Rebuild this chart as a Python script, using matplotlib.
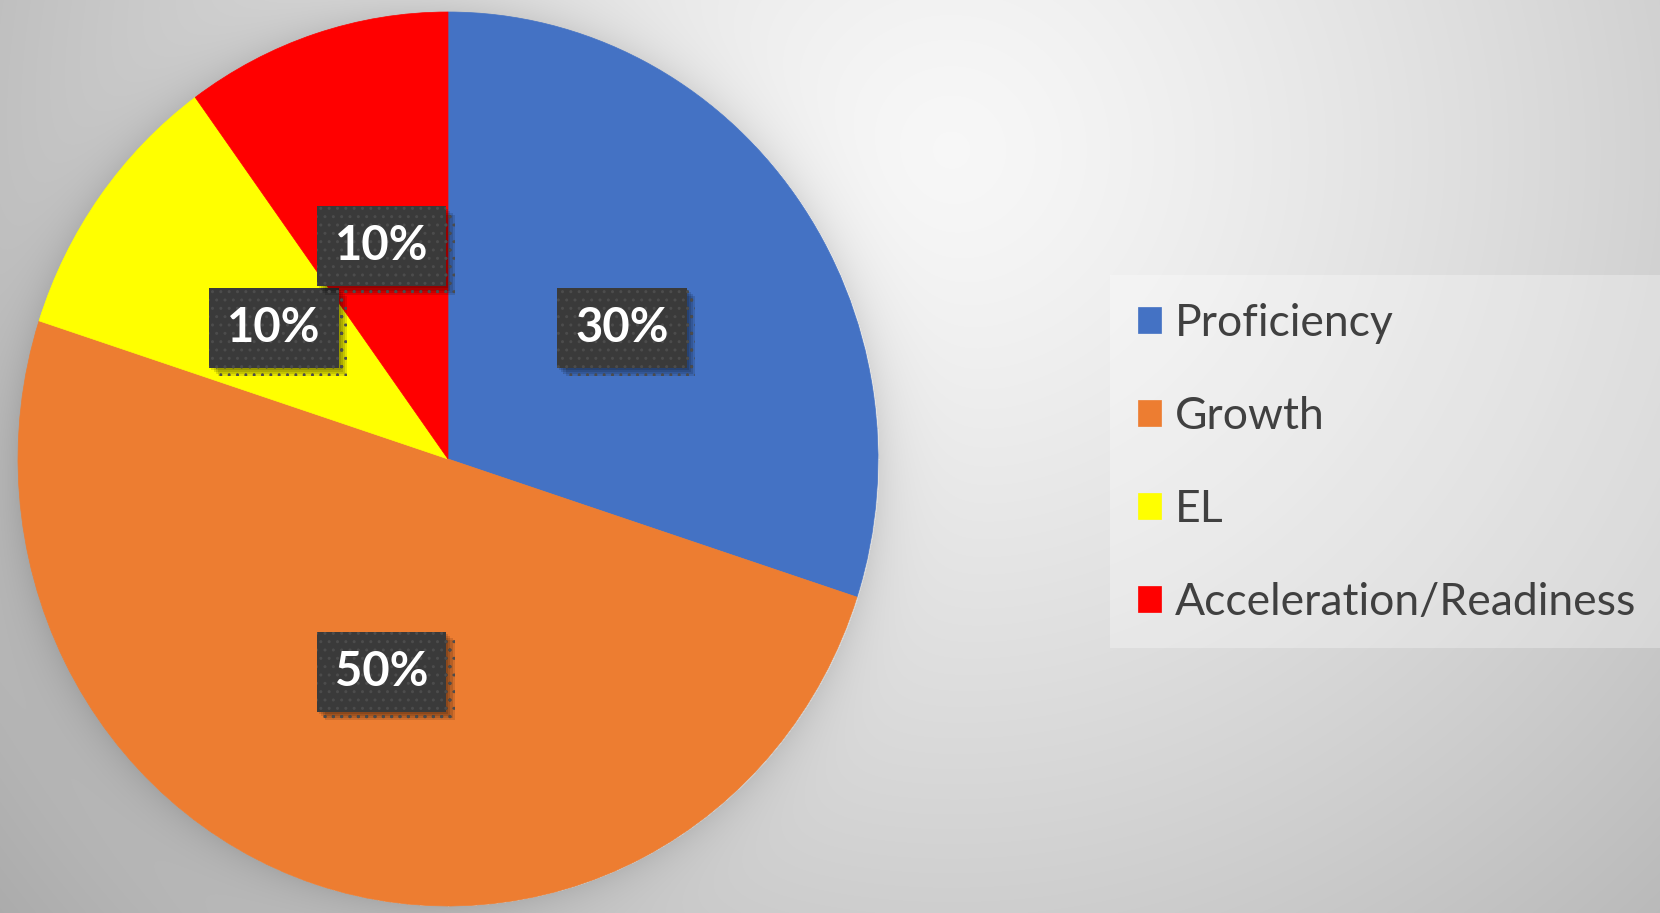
import numpy as np
import matplotlib.pyplot as plt
import matplotlib.patheffects as pe
from matplotlib.patches import Rectangle

categories = ["Proficiency", "Growth", "EL", "Acceleration/Readiness"]
shares = [30, 50, 10, 10]
colors = ["#4472C4", "#ED7D31", "#FFFF00", "#FF0000"]

W, H = 1660, 913
fig = plt.figure(figsize=(W / 100, H / 100), dpi=100)

# soft radial grey background with a halo behind the pie
yy, xx = np.mgrid[0:H, 0:W]
d = np.hypot(xx - 950, yy - 150) / 900
v = 0.97 - 0.2 * d ** 1.3
cx, cy, rx, ry = 448, 459, 430, 447
e = np.hypot((xx - cx) / rx, (yy - cy) / ry)
dist = np.clip((e - 1) * 440, 0, None)
v = v - 0.09 * np.exp(-dist / 22) * (e > 1)
v = np.clip(v, 0, 1)
bgax = fig.add_axes([0, 0, 1, 1])
bgax.imshow(np.dstack([v, v, v]), aspect="auto")
bgax.axis("off")

# pie (slightly taller than wide, like the source)
ax = fig.add_axes([(cx - rx) / W, (H - cy - ry) / H, 2 * rx / W, 2 * ry / H])
ax.patch.set_alpha(0)
wedges, texts, autotexts = ax.pie(
    shares, colors=colors, startangle=90, counterclock=False,
    autopct=lambda p: f"{p:.0f}%", pctdistance=0.5,
    wedgeprops=dict(linewidth=0.5, edgecolor="none"),
    textprops=dict(color="white", fontsize=34, fontweight="bold", family="Lato"))
for w, c in zip(wedges, colors):
    w.set_edgecolor(c)
ax.set_aspect("auto")
ax.set_xlim(-1, 1)
ax.set_ylim(-1, 1)
ax.axis("off")

for t in autotexts:
    t.set_bbox(dict(boxstyle="square,pad=0.38", fc="#3a3a3a", ec="#4c4c4c",
                    lw=0, hatch=".."))
    t.get_bbox_patch().set_path_effects(
        [pe.SimplePatchShadow(offset=(o, -o), shadow_rgbFace="black", alpha=0.12)
         for o in (6, 4.5, 3, 1.5)] + [pe.Normal()])

# legend box
fig.patches.append(Rectangle((1110 / W, (H - 648) / H), 550 / W, 373 / H,
                             transform=fig.transFigure, fc="white", alpha=0.3,
                             ec="none", zorder=1))
leg = fig.legend(wedges, categories, loc="upper left",
                 bbox_to_anchor=(1138 / W, 1 - 303 / H), frameon=False,
                 prop=dict(family="Lato", size=32), labelcolor="#404040",
                 handlelength=0.52, handleheight=0.52, handletextpad=0.32,
                 labelspacing=1.17, borderpad=0, borderaxespad=0)

fig.savefig("out.png", dpi=100)
